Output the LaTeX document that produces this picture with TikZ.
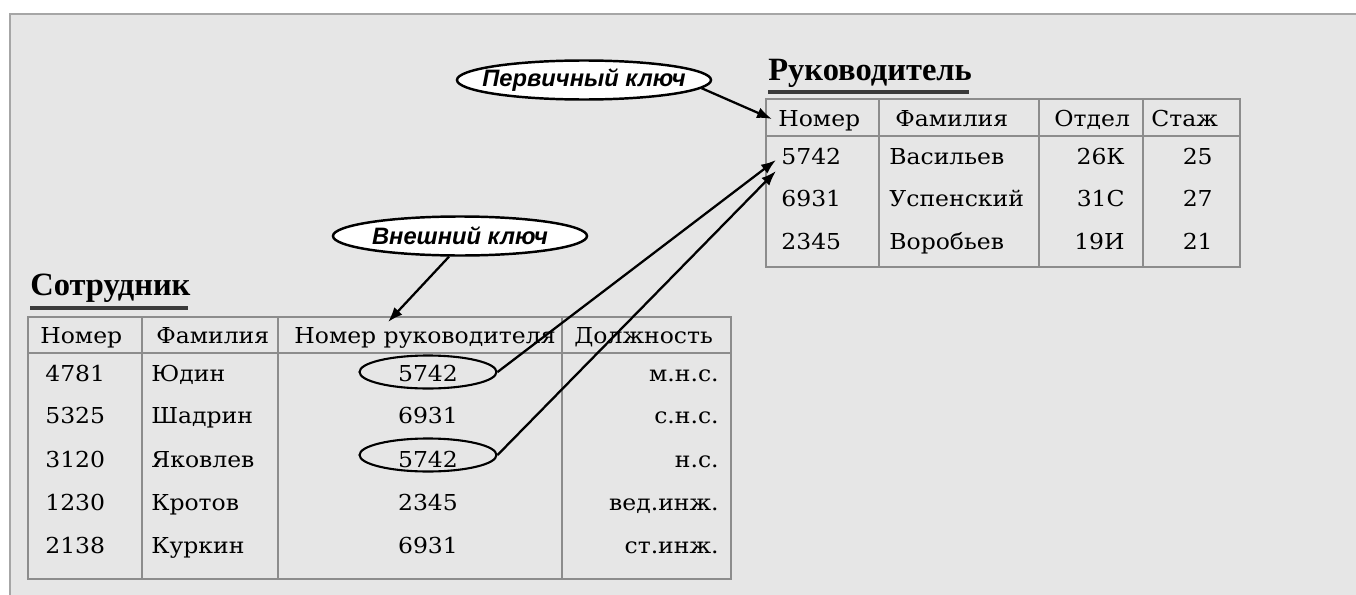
\documentclass[tikz,border=0pt]{standalone}
\usepackage{fontspec}
\setmainfont{DejaVu Serif}[FakeStretch=1.07]
\newfontfamily\keyfont{Liberation Sans}
\newfontfamily\titlefont{Liberation Serif}
\usetikzlibrary{arrows.meta,shapes.geometric}

\definecolor{panel}{HTML}{E6E6E6}
\definecolor{framegray}{HTML}{A6A6A6}
\definecolor{gridgray}{HTML}{8C8C8C}
\definecolor{rulegray}{HTML}{3A3A3A}

\tikzset{
  cell/.style={inner sep=0pt, anchor=base west, font=\fontsize{12.5}{14}\selectfont},
  cellr/.style={cell, anchor=base east},
  cellc/.style={cell, anchor=base},
  caption/.style={inner sep=0pt, anchor=base west, font=\titlefont\bfseries\fontsize{18.5}{22}\selectfont},
  keyoval/.style={ellipse, draw, line width=1.4pt, fill=white, inner xsep=-10pt, inner ysep=0pt,
    minimum width=5.08cm, minimum height=0.78cm, font=\keyfont\bfseries\itshape\fontsize{13.5}{16}\selectfont},
  hilite/.style={ellipse, draw, line width=1.2pt, inner sep=0pt, minimum width=2.74cm, minimum height=0.66cm},
  link/.style={-{Latex[length=3mm,width=2.2mm]}, line width=1.3pt},
  grid/.style={draw=gridgray, line width=0.8pt},
  uline/.style={draw=rulegray, line width=2pt}
}

\begin{document}
\begin{tikzpicture}[x=0.02cm, y=-0.02cm]
  \useasboundingbox (0,0) rectangle (1356,595);
  % panel
  \fill[panel] (10,14) rectangle (1356,595);
  \draw[framegray, line width=1pt] (10,595) -- (10,14) -- (1356,14);

  % table: Руководитель
  \node[caption] (ttlBoss) at (768,80) {Руководитель};
  \draw[uline] (768,92) -- (969,92);
  \draw[grid] (766,99) rectangle (1240,267);
  \draw[grid] (766,136) -- (1240,136);
  \draw[grid] (879,99) -- (879,267);
  \draw[grid] (1039,99) -- (1039,267);
  \draw[grid] (1143,99) -- (1143,267);
  \node[cell] (bHNum) at (778,126) {Номер};
  \node[cell] (bHName) at (895,126) {Фамилия};
  \node[cell] (bHDept) at (1054,126) {Отдел};
  \node[cell] (bHExp) at (1151,126) {Стаж};
  \node[cell] (b1Num) at (781,164) {5742};
  \node[cell] (b1Name) at (889,164) {Васильев};
  \node[cellr] (b1Dept) at (1125,164) {26К};
  \node[cellr] (b1Exp) at (1213,164) {25};
  \node[cell] (b2Num) at (781,206) {6931};
  \node[cell] (b2Name) at (889,206) {Успенский};
  \node[cellr] (b2Dept) at (1125,206) {31С};
  \node[cellr] (b2Exp) at (1213,206) {27};
  \node[cell] (b3Num) at (781,249) {2345};
  \node[cell] (b3Name) at (889,249) {Воробьев};
  \node[cellr] (b3Dept) at (1125,249) {19И};
  \node[cellr] (b3Exp) at (1213,249) {21};

  % table: Сотрудник
  \node[caption] (ttlStaff) at (30,295) {Сотрудник};
  \draw[uline] (30,308) -- (188,308);
  \draw[grid] (28,317) rectangle (731,579);
  \draw[grid] (28,353) -- (731,353);
  \draw[grid] (142,317) -- (142,579);
  \draw[grid] (278,317) -- (278,579);
  \draw[grid] (562,317) -- (562,579);
  \node[cell] (sHNum) at (40,343) {Номер};
  \node[cell] (sHName) at (156,343) {Фамилия};
  \node[cellc] (sHBoss) at (425,343) {Номер руководителя};
  \node[cell] (sHPost) at (574,343) {Должность};
  \node[cell] (s1Num) at (45,381) {4781};
  \node[cell] (s1Name) at (151,381) {Юдин};
  \node[cellc] (s1Boss) at (428,381) {5742};
  \node[cellr] (s1Post) at (719,381) {м.н.с.};
  \node[cell] (s2Num) at (45,423) {5325};
  \node[cell] (s2Name) at (151,423) {Шадрин};
  \node[cellc] (s2Boss) at (428,423) {6931};
  \node[cellr] (s2Post) at (719,423) {с.н.с.};
  \node[cell] (s3Num) at (45,467) {3120};
  \node[cell] (s3Name) at (151,467) {Яковлев};
  \node[cellc] (s3Boss) at (428,467) {5742};
  \node[cellr] (s3Post) at (719,467) {н.с.};
  \node[cell] (s4Num) at (45,510) {1230};
  \node[cell] (s4Name) at (151,510) {Кротов};
  \node[cellc] (s4Boss) at (428,510) {2345};
  \node[cellr] (s4Post) at (719,510) {вед.инж.};
  \node[cell] (s5Num) at (45,553) {2138};
  \node[cell] (s5Name) at (151,553) {Куркин};
  \node[cellc] (s5Boss) at (428,553) {6931};
  \node[cellr] (s5Post) at (719,553) {ст.инж.};

  % marked foreign key values
  \node[hilite] (mark1) at (428,372) {};
  \node[hilite] (mark2) at (428,455) {};

  % key labels
  \node[keyoval] (pk) at (584,80) {Первичный ключ};
  \node[keyoval] (fk) at (460,236) {Внешний ключ};
  \coordinate (pkTip) at (772,119);
  \coordinate (fkTip) at (388,322);
  \coordinate (refTip1) at (776,160);
  \coordinate (refTip2) at (776,171);

  \draw[link] (pk.-4) -- (pkTip);
  \draw[link] (fk.242) -- (fkTip);
  \draw[link] (mark1.east) -- (refTip1);
  \draw[link] (mark2.east) -- (refTip2);
\end{tikzpicture}
\end{document}
